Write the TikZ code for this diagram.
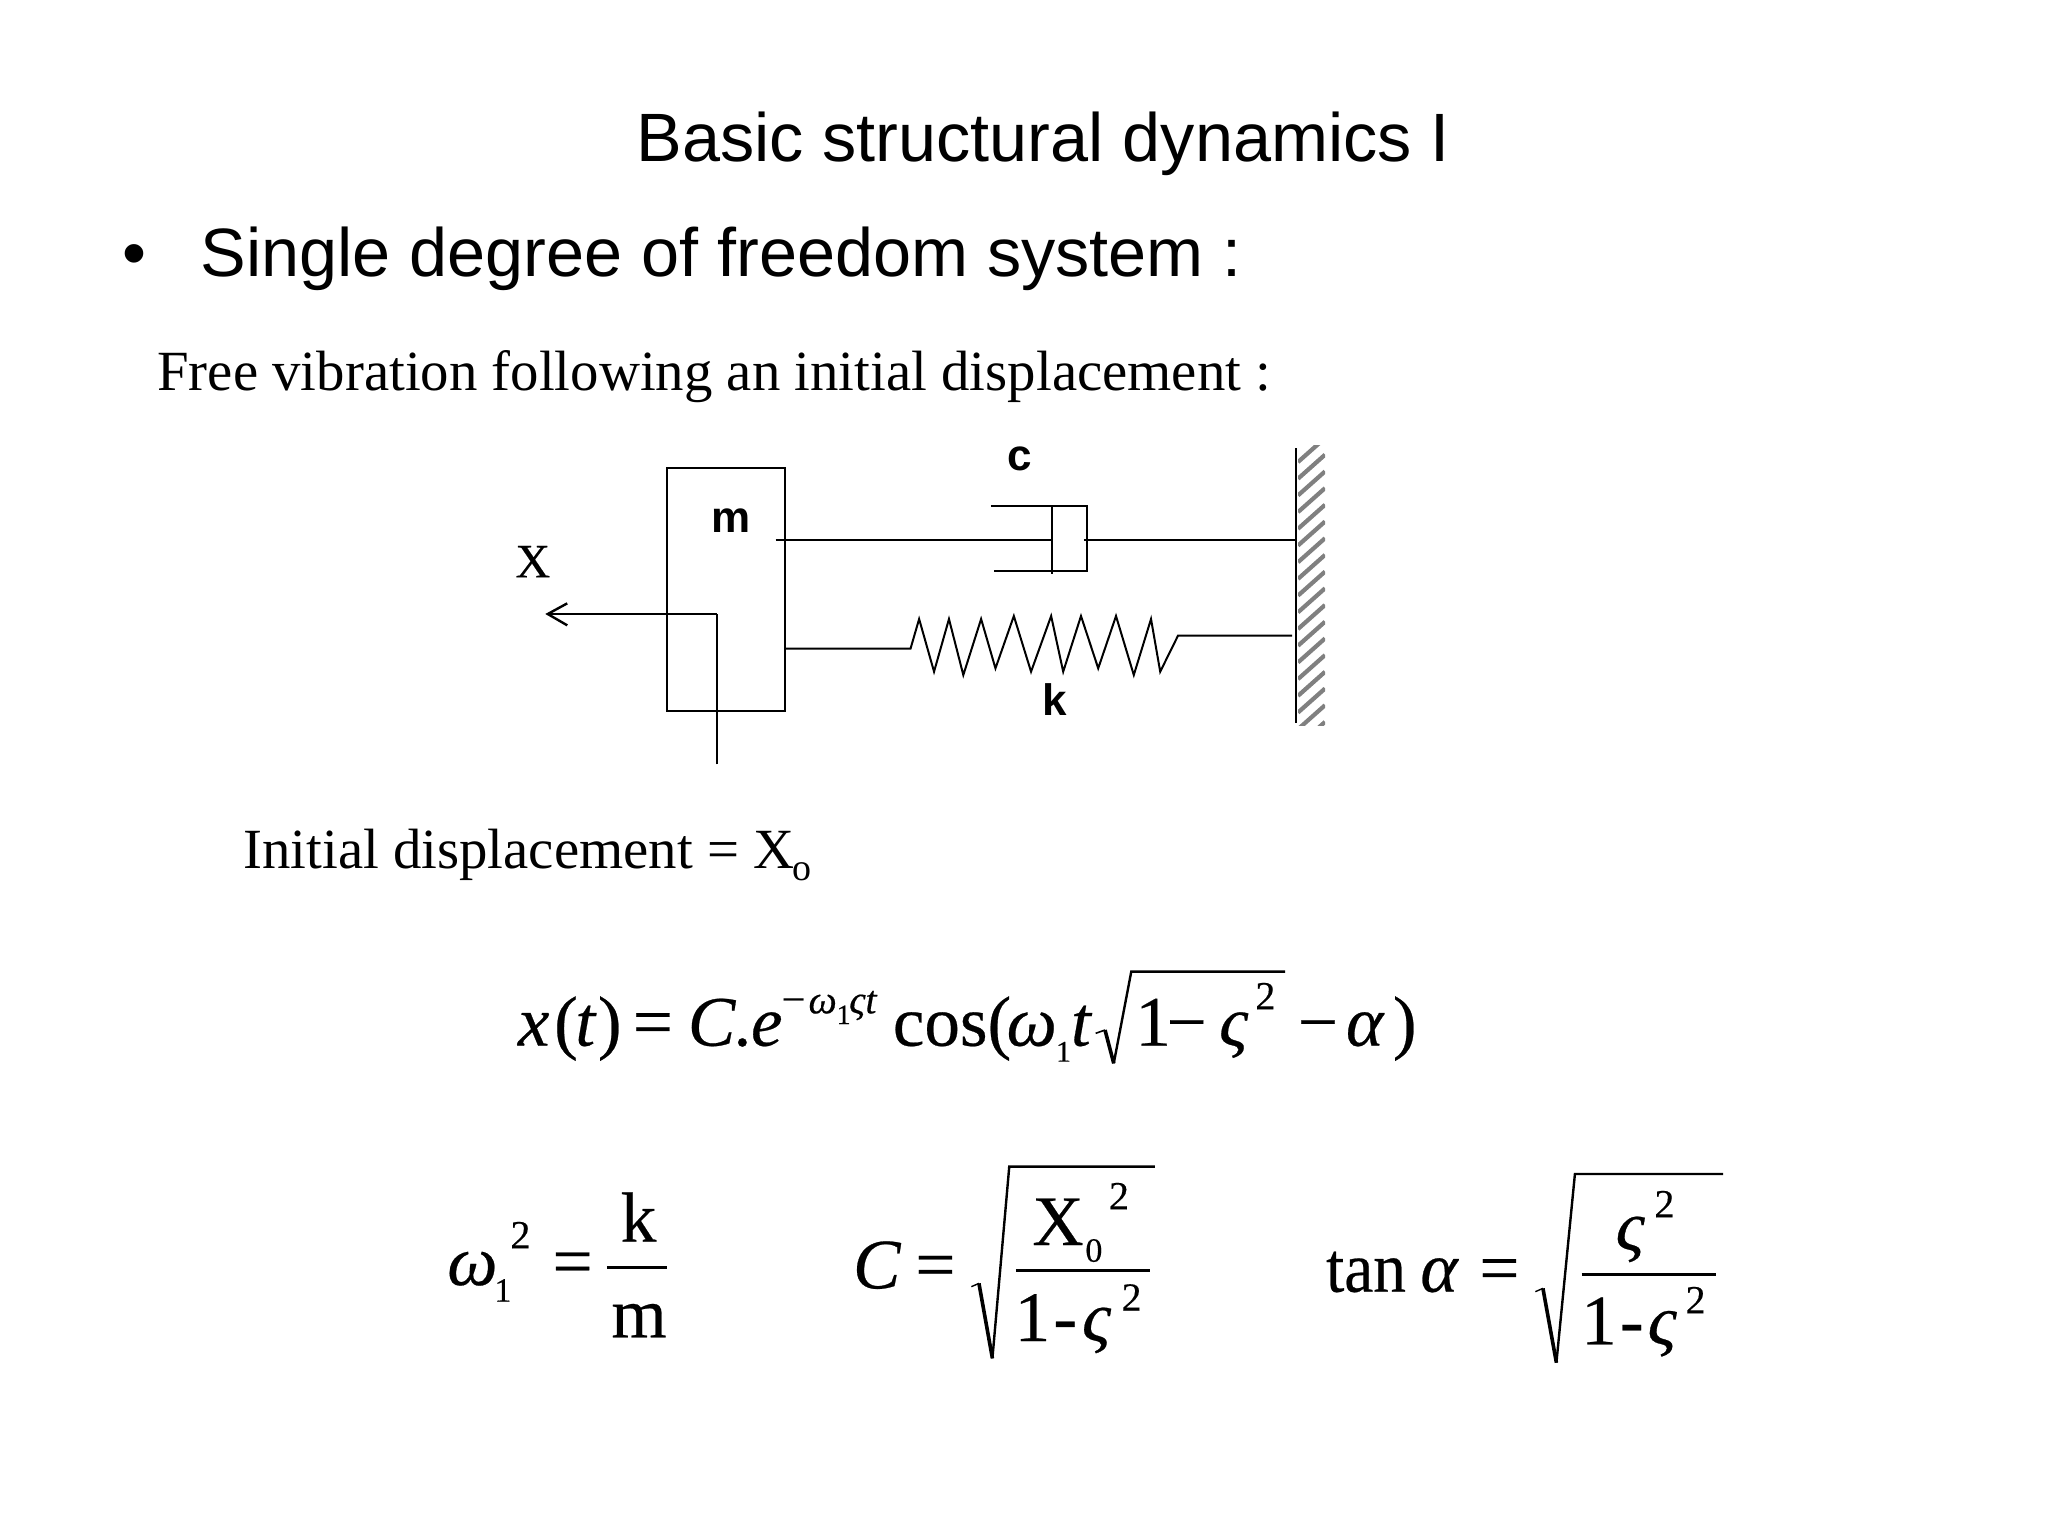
\documentclass[tikz,border=0pt]{standalone}
\usepackage{fontspec}
\setmainfont{Liberation Serif}
\setsansfont{Liberation Sans}
\newfontfamily\eqf[FakeBold=0.35]{Liberation Serif}
\tikzset{
  txt/.style={inner sep=0pt,anchor=base west,text=black},
  ttl/.style={txt,font=\sffamily\fontsize{34.2}{40}\selectfont},
  body/.style={txt,font=\fontsize{28.4}{34}\selectfont},
  lab/.style={inner sep=0pt,font=\sffamily\bfseries\fontsize{22}{24}\selectfont},
  eq/.style={txt,font=\eqf\fontsize{35.5}{40}\selectfont},
  eqi/.style={txt,font=\eqf\itshape\fontsize{35.5}{40}\selectfont},
  sup/.style={txt,font=\eqf\fontsize{20}{22}\selectfont},
  subs/.style={txt,font=\eqf\fontsize{17}{20}\selectfont},
  subt/.style={txt,font=\eqf\fontsize{15}{18}\selectfont},
  exs/.style={txt,font=\eqf\fontsize{14}{16}\selectfont},
  exi/.style={txt,font=\eqf\itshape\fontsize{20}{24}\selectfont},
  ex/.style={txt,font=\eqf\fontsize{21}{24}\selectfont},
  ln/.style={draw=black,line width=1pt},
  thin ln/.style={draw=black,line width=.8pt},
  hatchline/.style={draw=black!50,line width=2.1pt},
}
\begin{document}
\begin{tikzpicture}[x=0.5pt,y=-0.5pt]
\useasboundingbox[fill=white] (0,0) rectangle (2048,1536);
% headings
\node[ttl] (title) at (636,161) {Basic structural dynamics I};
\node[ttl] (bullet) at (122,276) {•};
\node[ttl] (head) at (200,276) {Single degree of freedom system :};
\node[body] (free) at (157,390) {Free vibration following an initial displacement :};
\node[body] (init) at (243,868) {Initial displacement = X};
\node[txt,font=\fontsize{19}{22}\selectfont] (inito) at (792,880) {o};
% wall hatching
\begin{scope}
  \clip (1298,445) rectangle (1325,725);
  \foreach \i in {0,...,17} {
    \draw[hatchline] (1298,462+\i*16.7) -- (1325,438+\i*16.7);
  }
\end{scope}
% mechanical sketch (zoom coordinates)
\begin{scope}[shift={(480,420)},x=0.287pt,y=-0.16667pt]
  \coordinate (ma) at (325,145); \coordinate (mb) at (531,873);
  \draw[ln] (ma) rectangle (mb);
  \node[lab] (m) at (438,303) {m};
  \node[lab] (c) at (940,118) {c};
  \node[lab] (k) at (1001,838) {k};
  \node[inner sep=0pt,font=\eqf\fontsize{24}{26}\selectfont] (xl) at (92,425) {X};
  % damper
  \coordinate (d0) at (515,360); \coordinate (d1) at (996,360);
  \coordinate (d2) at (1052,360); \coordinate (w1) at (1422,360);
  \draw[ln] (d0) -- (d1);
  \draw[ln] (d2) -- (w1);
  \draw[ln] (890,258) -- (1058,258) -- (1058,452) -- (895,452);
  \draw[thin ln] (996,258) -- (996,462);
  % spring
  \draw[ln,line join=miter] (531,686) -- (750,686) -- (765,597) -- (791,755) -- (817,597) -- (842,765) -- (873,597) -- (898,745) -- (930,588) -- (960,755) -- (995,588) -- (1016,755) -- (1047,588) -- (1077,745) -- (1108,588) -- (1139,765) -- (1169,597) -- (1185,755) -- (1216,647) -- (1415,647);
  % displacement arrow
  \coordinate (a0) at (412,1033); \coordinate (a1) at (412,582); \coordinate (a2) at (118,582);
  \draw[ln] (a0) -- (a1);
  \draw[ln,line width=1.3pt] (a1) -- (a2);
  \draw[ln,line width=1.2pt] (152,550) -- (a2) -- (152,616);
  % wall
  \draw[ln] (1421,85) -- (1421,908);
\end{scope}
% equation 1
\begin{scope}[shift={(480,950)},x=0.3125pt,y=-0.16667pt]
  \node[eqi] (e1x) at (60,287) {x};
  \node[eq] (e1p) at (118,287) {(};
  \node[eqi] (e1t) at (152,287) {t};
  \node[eq] (e1q) at (188,287) {)};
  \node[eq] (e1e) at (244,287) {=};
  \node[eqi] (e1c) at (332,287) {C.};
  \node[eqi] (e1ee) at (433,287) {e};
  \node[ex] (e1m) at (482,190) {−};
  \node[exi] (e1w) at (525,190) {ω};
  \node[exs] (e1s) at (570,222) {1};
  \node[exi] (e1z) at (590,190) {ςt};
  \node[eq] (e1cos) at (660,287) {cos(};
  \node[eqi] (e1o) at (842,287) {ω};
  \node[subt] (e1one) at (921,335) {1};
  \node[eqi] (e1tt) at (945,287) {t};
  \draw[line width=.8pt] (985,250) -- (1000,240);
  \draw[line width=1.8pt] (1000,240) -- (1014,340);
  \draw[ln,line width=1.2pt] (1014,340) -- (1042,65) -- (1288,65);
  \node[eq] (e1on) at (1048,287) {1};
  \node[eq] (e1mi) at (1098,287) {−};
  \node[eqi] (e1z2) at (1182,287) {ς};
  \node[sup] (e1two) at (1240,178) {2};
  \node[eq] (e1mm) at (1308,287) {−};
  \node[eqi] (e1a) at (1385,287) {α};
  \node[eq] (e1r) at (1460,287) {)};
\end{scope}
% equations 2-4
\begin{scope}[shift={(420,1140)},x=0.42088pt,y=-0.16667pt]
  \node[eqi] (o) at (32,435) {ω};
  \node[subs] (oo) at (88,485) {1};
  \node[sup] (ot) at (107,325) {2};
  \node[eq] (oe) at (157,435) {=};
  \node[eq] (ok) at (238,305) {k};
  \draw[ln,line width=1.2pt] (222,382) -- (293,382);
  \node[eq] (om) at (227,592) {m};
  \node[eqi] (cc) at (514,445) {C};
  \node[eq] (ce) at (588,445) {=};
  \draw[line width=.7pt] (655,440) -- (664,430);
  \draw[line width=1.8pt] (664,430) -- (680,655);
  \draw[ln,line width=1.2pt] (680,655) -- (700,80) -- (873,80);
  \node[eq] (cx) at (727,315) {X};
  \node[subs] (cz) at (790,365) {0};
  \node[sup] (ct) at (818,208) {2};
  \draw[ln,line width=1.2pt] (708,392) -- (867,392);
  \node[eq] (c1) at (706,603) {1};
  \node[eq] (cd) at (752,603) {-};
  \node[eqi] (cs) at (786,603) {ς};
  \node[sup] (ct2) at (833,512) {2};
  \node[eq,xscale=.92,transform shape] (tan) at (1076,455) {tan};
  \node[eqi] (ta) at (1188,455) {α};
  \node[eq] (te) at (1258,455) {=};
  \draw[line width=.7pt] (1325,455) -- (1334,445);
  \draw[line width=1.8pt] (1334,445) -- (1350,668);
  \draw[ln,line width=1.2pt] (1350,668) -- (1372,102) -- (1548,102);
  \node[eqi] (ts) at (1420,330) {ς};
  \node[sup] (tt) at (1466,232) {2};
  \draw[ln,line width=1.2pt] (1380,403) -- (1540,403);
  \node[eq] (t1) at (1379,613) {1};
  \node[eq] (td) at (1425,613) {-};
  \node[eqi] (ts2) at (1458,613) {ς};
  \node[sup] (tt2) at (1503,520) {2};
\end{scope}
\end{tikzpicture}
\end{document}
